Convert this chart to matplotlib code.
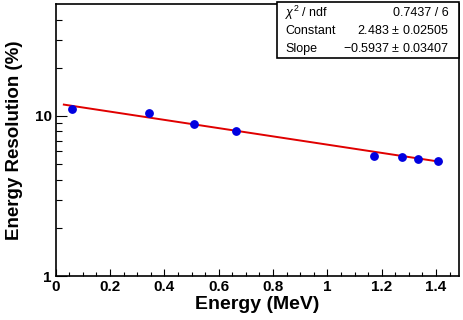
import numpy as np
import matplotlib.pyplot as plt
from matplotlib.ticker import FixedLocator, NullFormatter, FixedFormatter, MultipleLocator

# measured points
energy = [0.0595, 0.344, 0.511, 0.662, 1.173, 1.275, 1.333, 1.408]
resolution = [11.1, 10.44, 8.84, 8.03, 5.61, 5.53, 5.37, 5.21]

# fit results (expo)
fit_const = 2.483
fit_slope = -0.5937
fit_range = [0.03, 1.42]
stats_rows = [("$\\chi^2$ / ndf", "0.7437 / 6"),
              ("Constant", "2.483 $\\pm$ 0.02505"),
              ("Slope", "\u22120.5937 $\\pm$ 0.03407")]

plt.rcParams['font.family'] = ['Liberation Sans', 'DejaVu Sans']
plt.rcParams['mathtext.fontset'] = 'custom'
plt.rcParams['mathtext.rm'] = 'Liberation Sans'
plt.rcParams['mathtext.it'] = 'Liberation Sans:italic'

fig = plt.figure(figsize=(4.64, 3.2), dpi=100)
ax = fig.add_axes([0.12, 0.1375, 0.87, 0.85])

xf = np.linspace(fit_range[0], fit_range[1], 200)
ax.plot(xf, np.exp(fit_const + fit_slope * xf), color='#e00000', lw=1.4, zorder=2)
ax.plot(energy, resolution, 'o', color='#0000e0', ms=5.3, zorder=3)

ax.set_yscale('log')
ax.set_xlim(0, 1.486)
ax.set_ylim(1, 50)

# ticks, ROOT style
ax.xaxis.set_minor_locator(MultipleLocator(0.05))
xt = [0, 0.2, 0.4, 0.6, 0.8, 1, 1.2, 1.4]
ax.set_xticks(xt)
ax.set_xticklabels(["0", "0.2", "0.4", "0.6", "0.8", "1", "1.2", "1.4"])
ax.yaxis.set_major_locator(FixedLocator([1, 10]))
ax.yaxis.set_major_formatter(FixedFormatter(["1", "10"]))
ax.yaxis.set_minor_locator(FixedLocator([2, 3, 4, 5, 6, 7, 8, 9, 20, 30, 40]))
ax.yaxis.set_minor_formatter(NullFormatter())
ax.tick_params(axis='x', which='major', direction='in', length=5, width=0.8,
               labelsize=11, pad=3)
ax.tick_params(axis='x', which='minor', direction='in', length=3, width=0.8)
ax.tick_params(axis='y', which='major', direction='in', length=8, width=0.8,
               labelsize=11, pad=3)
ax.tick_params(axis='y', which='minor', direction='in', length=4.3, width=0.8)
for lab in ax.get_xticklabels() + ax.get_yticklabels():
    lab.set_fontweight('bold')
for s in ax.spines.values():
    s.set_linewidth(1.2)

ax.set_xlabel("Energy (MeV)", fontsize=14, fontweight='bold', labelpad=1)
ax.set_ylabel("Energy Resolution (%)", fontsize=13.5, fontweight='bold', labelpad=8)

# stats box
bx0, by0, bx1, by1 = 277 / 464, 1 - 58 / 320, 459 / 464, 1 - 2 / 320
fig.patches.append(plt.Rectangle((bx0, by0), bx1 - bx0, by1 - by0, transform=fig.transFigure,
                                 fill=True, facecolor='white', edgecolor='black', lw=1.2, zorder=5))
for i, (name, val) in enumerate(stats_rows):
    y = 1 - (13 + 18 * i) / 320
    fig.text(bx0 + 8 / 464, y, name, fontsize=9, va='center', ha='left', zorder=6)
    fig.text(bx1 - 10 / 464, y, val, fontsize=9, va='center', ha='right', zorder=6)

fig.savefig("out.png", dpi=100)
